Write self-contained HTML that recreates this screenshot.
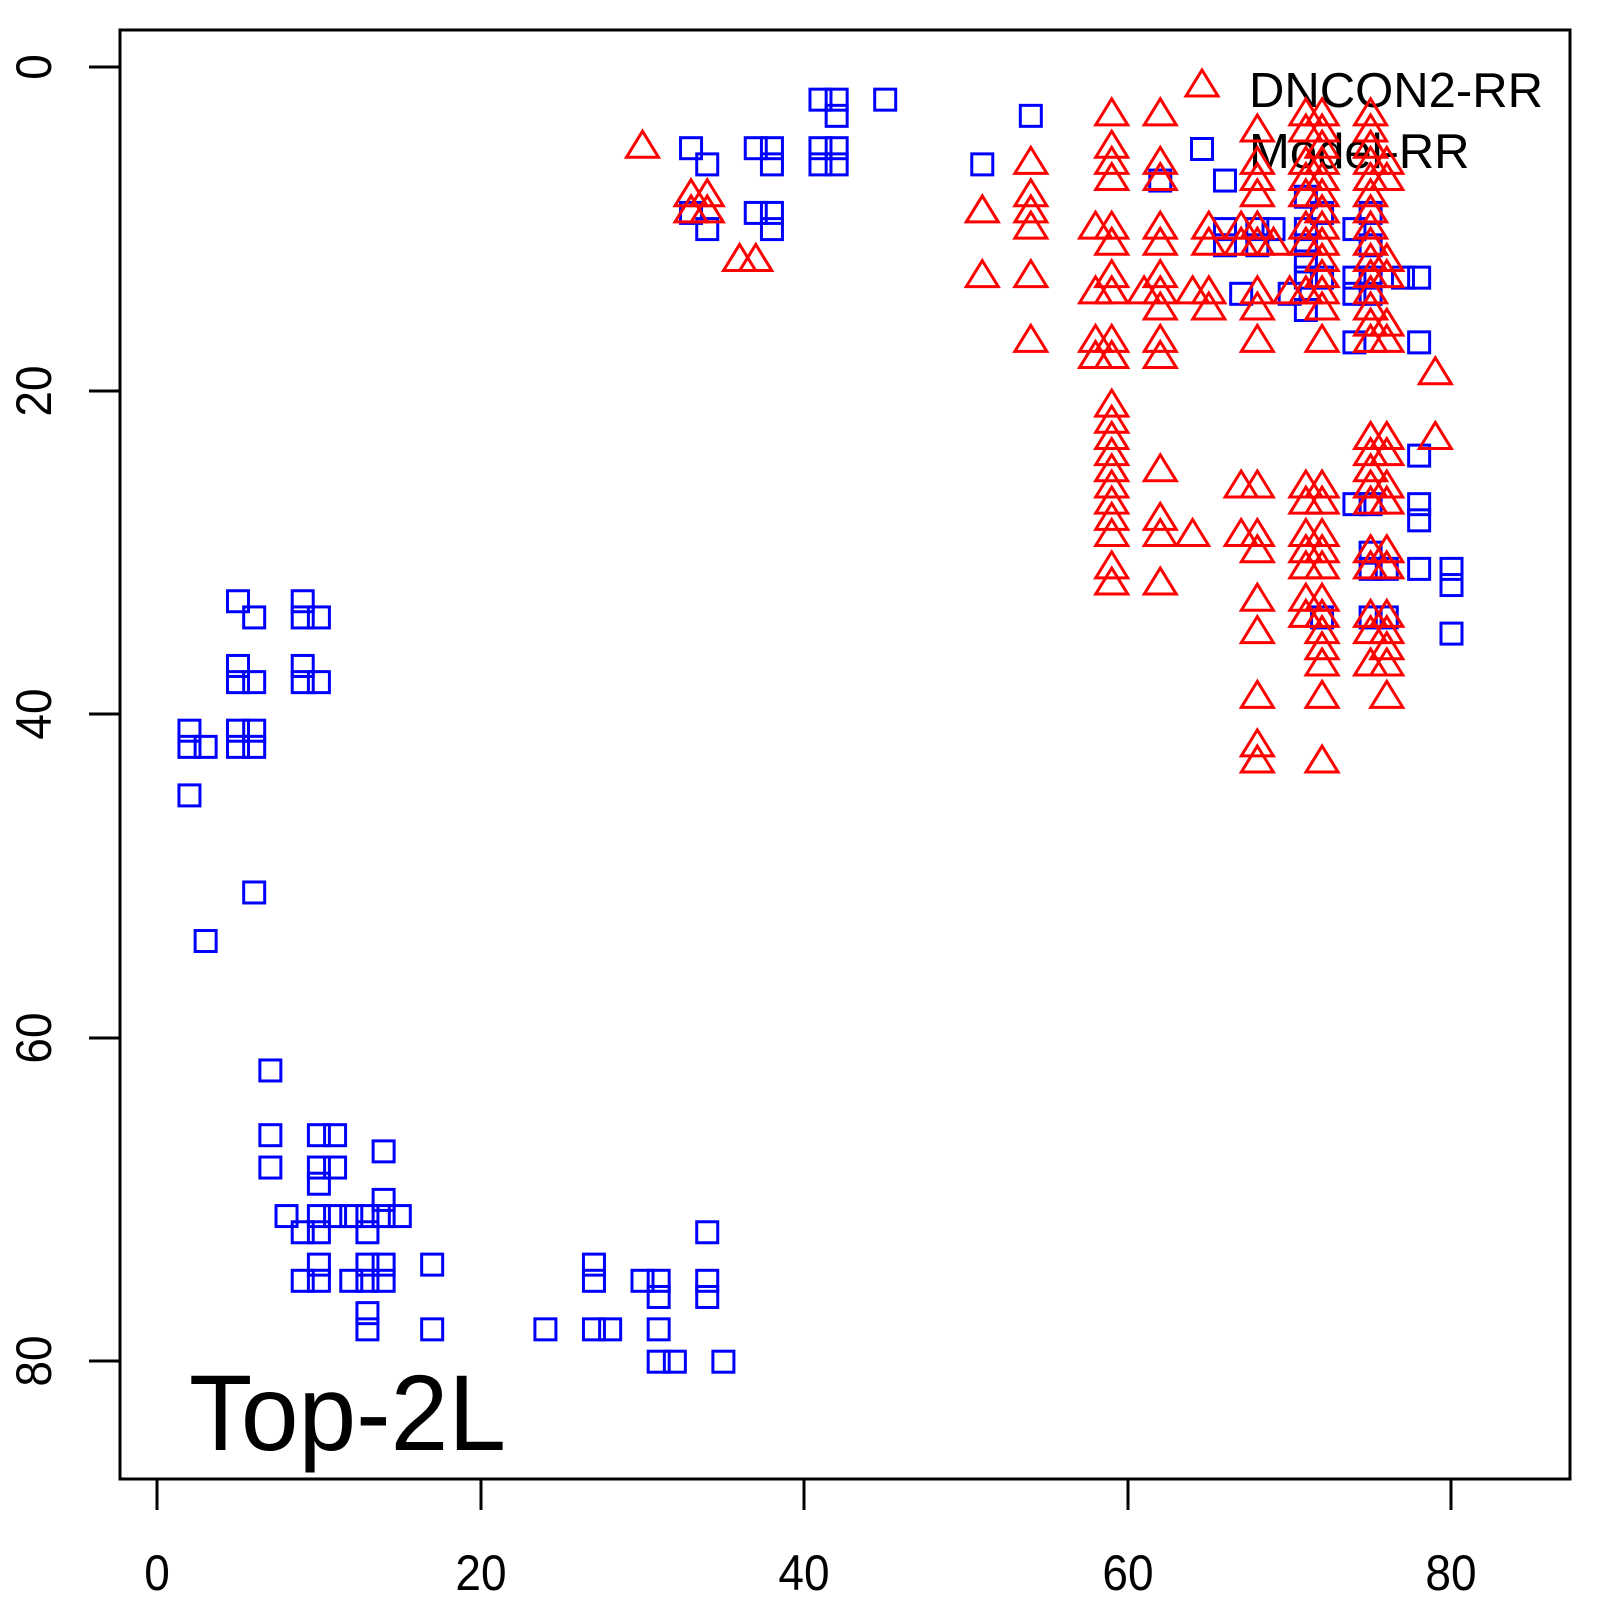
<!DOCTYPE html>
<html><head><meta charset="utf-8"><style>html,body{margin:0;padding:0;background:#fff}svg{display:block}</style></head>
<body>
<svg id="s" width="1600" height="1600" xmlns="http://www.w3.org/2000/svg" font-family="Liberation Sans, sans-serif">
<rect x="120" y="30" width="1450" height="1449" fill="none" stroke="#000" stroke-width="3"/>
<g stroke="#000" stroke-width="3">
<line x1="157" y1="1479" x2="1451" y2="1479"/>
<line x1="157" y1="1479" x2="157" y2="1510"/><line x1="481" y1="1479" x2="481" y2="1510"/><line x1="804" y1="1479" x2="804" y2="1510"/><line x1="1128" y1="1479" x2="1128" y2="1510"/><line x1="1451" y1="1479" x2="1451" y2="1510"/>
<line x1="120" y1="67" x2="120" y2="1361"/>
<line x1="89" y1="67" x2="120" y2="67"/><line x1="89" y1="391" x2="120" y2="391"/><line x1="89" y1="714" x2="120" y2="714"/><line x1="89" y1="1038" x2="120" y2="1038"/><line x1="89" y1="1361" x2="120" y2="1361"/>
</g>
<g font-size="50" text-anchor="middle" fill="#000">
<text transform="translate(157,1590) scale(0.92,1)">0</text>
<text transform="translate(481,1590) scale(0.92,1)">20</text>
<text transform="translate(804,1590) scale(0.92,1)">40</text>
<text transform="translate(1128,1590) scale(0.92,1)">60</text>
<text transform="translate(1451,1590) scale(0.92,1)">80</text>
<text transform="translate(51,67) rotate(-90) scale(0.92,1)">0</text>
<text transform="translate(51,391) rotate(-90) scale(0.92,1)">20</text>
<text transform="translate(51,714) rotate(-90) scale(0.92,1)">40</text>
<text transform="translate(51,1038) rotate(-90) scale(0.92,1)">60</text>
<text transform="translate(51,1361) rotate(-90) scale(0.92,1)">80</text>
</g>
<text transform="translate(189,1450) scale(0.96,1)" font-size="108" fill="#000">Top-2L</text>
<text x="1249" y="107" font-size="49" fill="#000">DNCON2-RR</text>
<text x="1249" y="168" font-size="49" fill="#000">Model-RR</text>
<g id="pts" fill="none" stroke-width="3"></g>
</svg>
<script>
var X=function(x){return 157.1+16.18*x},Y=function(y){return 67.3+16.18*y};
var sq=[[33,5],[34,6],[33,9],[34,10],[37,5],[38,5],[38,6],[37,9],[38,9],[38,10],[41,2],[42,2],[42,3],[41,5],[42,5],[41,6],[42,6],[45,2],
[51,6],[54,3],[66,7],[62,7],[66,10],[66,11],[68,10],[68,11],[69,10],[67,14],[70,14],[71,10],[71,11],[71,8],[71,12],[71,13],[71,15],[72,9],[72,13],[74,10],[74,13],[74,14],[74,17],[75,13],[75,14],[75,11],[75,9],[77,13],[78,13],[78,17],[78,24],[78,27],[78,28],[78,31],[80,31],[80,32],[80,35],[74,27],[75,27],[75,30],[75,31],[76,31],[75,34],[76,34],[72,34],
[2,41],[2,42],[3,42],[2,45],[5,33],[6,34],[5,37],[5,38],[6,38],[5,41],[5,42],[6,41],[6,42],[9,33],[9,34],[10,34],[9,37],[9,38],[10,38],[6,51],[3,54],
[7,62],[7,66],[7,68],[10,66],[11,66],[10,68],[11,68],[10,69],[8,71],[9,72],[10,72],[10,71],[11,71],[12,71],[13,71],[13,72],[14,67],[14,70],[14,71],[15,71],[9,75],[10,75],[10,74],[12,75],[13,74],[13,75],[14,74],[14,75],[13,77],[13,78],[17,74],[17,78],[24,78],[27,74],[27,75],[27,78],[28,78],[30,75],[31,75],[31,76],[31,78],[31,80],[32,80],[34,72],[34,75],[34,76],[35,80]];
var tri=[[30,5],[33,8],[34,8],[33,9],[34,9],[36,12],[37,12],[51,9],[51,13],[61,14],[64,14],[64,29],[69,11],[70,14],[79,19],[79,23]];
var cols={54:[6,8,9,10,13,17],58:[10,14,17,18],59:[3,5,6,7,10,11,13,14,17,18,21,22,23,24,25,26,27,28,29,31,32],
62:[3,6,7,10,11,13,14,15,17,18,25,28,29,32],65:[10,11,14,15],67:[10,11,26,29],
68:[4,6,7,8,10,11,14,15,17,26,29,30,33,35,39,42,43],71:[3,4,6,7,8,10,11,14,26,27,29,30,31,33,34],
72:[3,4,5,6,7,8,9,10,11,12,13,14,15,17,26,27,29,30,31,33,34,35,36,37,39,43],
75:[3,4,5,6,7,8,9,10,11,12,13,14,15,16,17,23,24,25,26,27,30,31,34,35,37],
76:[6,7,12,13,16,17,23,24,26,27,30,31,34,35,36,37,39]};
for(var k in cols)cols[k].forEach(function(y){tri.push([+k,y])});
var h='';
sq.forEach(function(p){var x=X(p[0]),y=Y(p[1]);h+='<rect x="'+(x-10.5)+'" y="'+(y-10.5)+'" width="21" height="21" stroke="#0000ff"/>'});
function t(x,y){return '<polygon points="'+x+','+(y-17)+' '+(x+16)+','+(y+9)+' '+(x-16)+','+(y+9)+'" stroke="#ff0000"/>'}
tri.forEach(function(p){h+=t(X(p[0]),Y(p[1]))});
h+=t(1202,87);
h+='<rect x="1191.5" y="138.5" width="21" height="21" stroke="#0000ff"/>';
document.getElementById('pts').innerHTML=h;
</script>
</body></html>
